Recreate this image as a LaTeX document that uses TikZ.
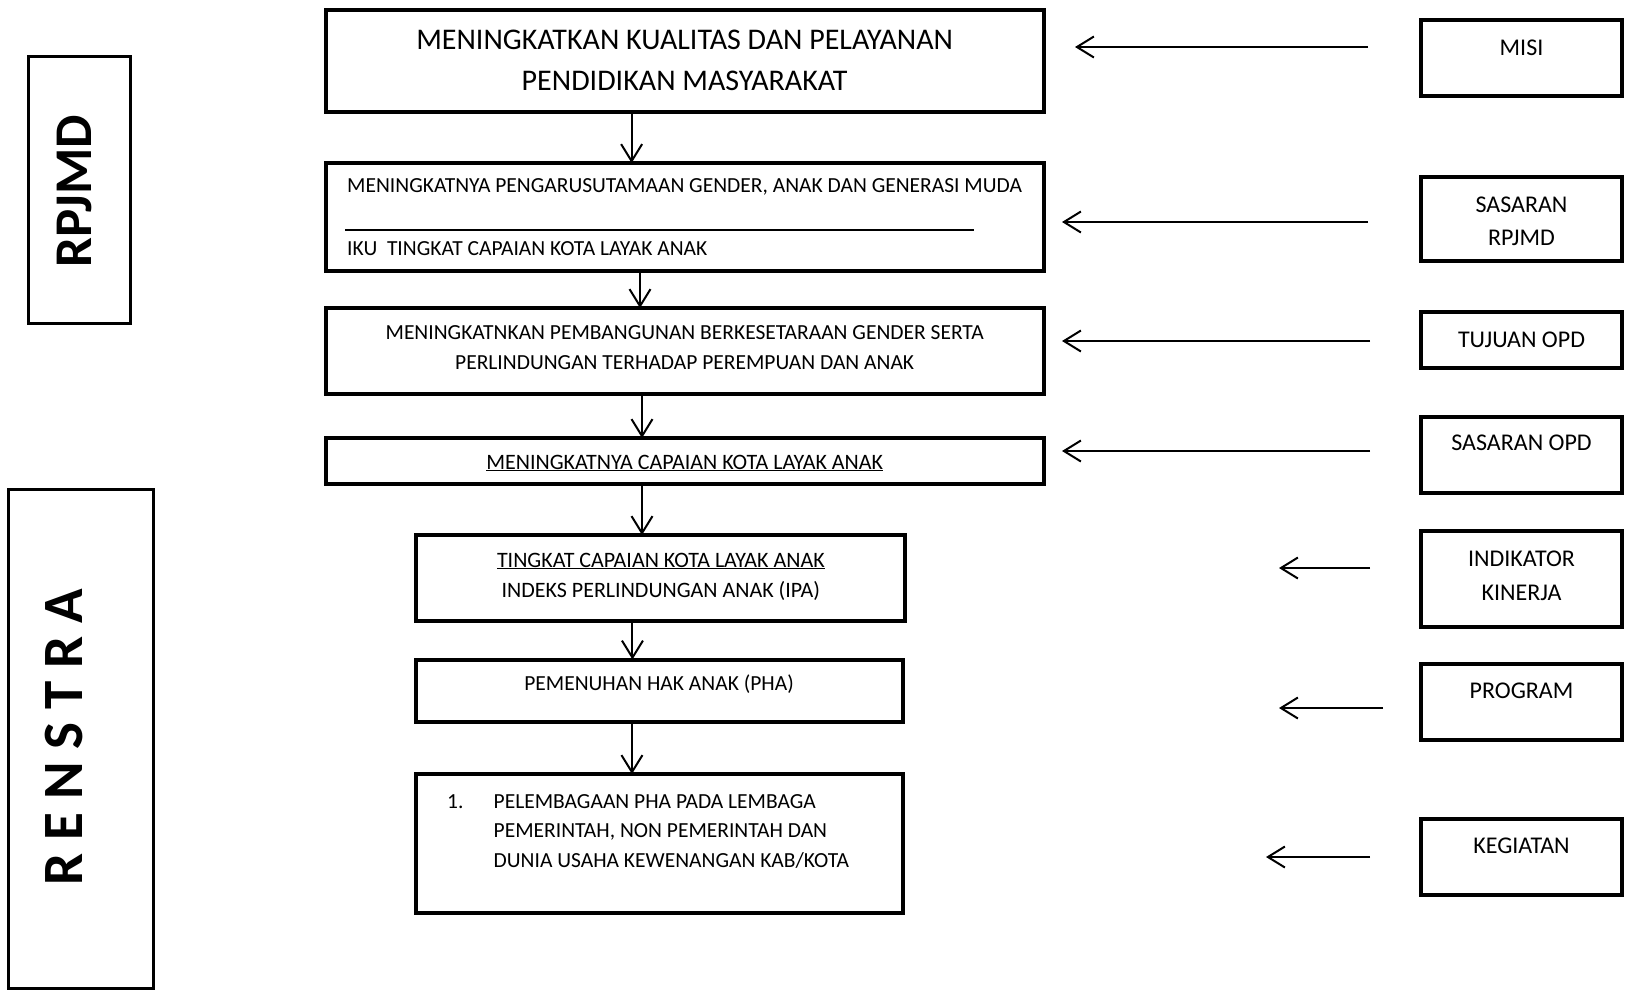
\documentclass[tikz,border=0pt]{standalone}
\usepackage{fontspec}
\setmainfont{Carlito}
\usetikzlibrary{arrows.meta,calc}
\tikzset{
  mainbox/.style={draw, line width=4pt, inner sep=0pt, outer sep=0pt, anchor=north west},
  sidebox/.style={draw, line width=3.5pt, inner sep=0pt, outer sep=0pt, anchor=north west,
                  minimum width=201pt},
  framebox/.style={draw, line width=3pt, inner sep=0pt, outer sep=0pt, anchor=north west},
  txt/.style={font=\fontsize{21.5}{30}\selectfont, inner sep=0pt, align=center},
  ultxt/.style={font=\fontsize{22}{30}\selectfont, inner sep=0pt, align=center},
  sidetxt/.style={font=\fontsize{24}{33.5}\selectfont, inner sep=0pt, align=center},
  vtxt/.style={font=\bfseries, inner sep=0pt, rotate=90, anchor=base},
  ardown/.style={-{Straight Barb[length=17pt,width=21pt]}, line width=2pt},
  arleft/.style={-{Straight Barb[length=17pt,width=21pt]}, line width=2pt},
}
\begin{document}
\begin{tikzpicture}[x=1pt, y=-1pt]
\useasboundingbox (0,0) rectangle (1629,994);

% side frames
\node[framebox, minimum width=102pt, minimum height=267pt] (rpjmd) at (28.5,56.5) {};
\node[framebox, minimum width=145pt, minimum height=499pt] (renstra) at (8.5,489.5) {};
\node[vtxt, font=\fontsize{53}{60}\selectfont\bfseries] (trpjmd) at (91,191) {RPJMD};
\node[vtxt, font=\fontsize{57}{64}\selectfont\bfseries] (trenstra) at (82,737) {R E N S T R A};

% main column
\node[mainbox, minimum width=718pt, minimum height=102pt] (b1) at (326,10) {};
\node[mainbox, minimum width=718pt, minimum height=108pt] (b2) at (326,163) {};
\node[mainbox, minimum width=718pt, minimum height=86pt] (b3) at (326,308) {};
\node[mainbox, minimum width=718pt, minimum height=46pt] (b4) at (326,438) {};
\node[mainbox, minimum width=489.5pt, minimum height=86pt] (b5) at (415.5,535) {};
\node[mainbox, minimum width=487.5pt, minimum height=62.5pt] (b6) at (415.5,659.5) {};
\node[mainbox, minimum width=487.5pt, minimum height=139pt] (b7) at (415.5,774) {};

\node[txt, font=\fontsize{30}{41.5}\selectfont] (t1) at (684.6,60.3)
  {MENINGKATKAN KUALITAS DAN PELAYANAN\\PENDIDIKAN MASYARAKAT};
\node[txt, anchor=base west] (t2a) at (347,192)
  {MENINGKATNYA PENGARUSUTAMAAN GENDER, ANAK DAN GENERASI MUDA};
\draw[line width=2pt] (345,230) -- (973.5,230);
\node[txt, anchor=base west] (t2b) at (347,255) {IKU\ \ TINGKAT CAPAIAN KOTA LAYAK ANAK};
\node[txt, font=\fontsize{21.5}{30.5}\selectfont] (t3) at (684.6,347.8)
  {MENINGKATNKAN PEMBANGUNAN BERKESETARAAN GENDER SERTA\\PERLINDUNGAN TERHADAP PEREMPUAN DAN ANAK};
\node[ultxt, anchor=base] (t4) at (684.6,469) {\underline{MENINGKATNYA CAPAIAN KOTA LAYAK ANAK}};
\node[ultxt] (t5) at (660.8,576.5)
  {\underline{TINGKAT CAPAIAN KOTA LAYAK ANAK}\\INDEKS PERLINDUNGAN ANAK (IPA)};
\node[txt, anchor=base] (t6) at (659,690) {PEMENUHAN HAK ANAK (PHA)};
\node[txt, anchor=base west] (n7) at (447,808) {1.};
\node[txt, align=left, font=\fontsize{21.5}{29.5}\selectfont, anchor=north west] (t7) at (493.5,794.3)
  {PELEMBAGAAN PHA PADA LEMBAGA\\PEMERINTAH, NON PEMERINTAH DAN\\DUNIA USAHA KEWENANGAN KAB/KOTA};

% flow down
\coordinate (d1) at ($(b1.south)+(-53.4,0)$);
\coordinate (d2) at ($(b2.south)+(-45,0)$);
\coordinate (d3) at ($(b3.south)+(-43,0)$);
\coordinate (d4) at ($(b4.south)+(-43,0)$);
\coordinate (d5) at ($(b5.south)+(-27.8,0)$);
\coordinate (d6) at ($(b6.south)+(-27.3,0)$);
\draw[ardown] (d1) -- (d1 |- b2.north);
\draw[ardown] (d2) -- (d2 |- b3.north);
\draw[ardown] (d3) -- (d3 |- b4.north);
\draw[ardown] (d4) -- (d4 |- b5.north);
\draw[ardown] (d5) -- (d5 |- b6.north);
\draw[ardown] (d6) -- (d6 |- b7.north);

% right column
\node[sidebox, minimum height=76pt] (misi) at (1421,20) {};
\node[sidebox, minimum height=84pt] (sasrpjmd) at (1421,177) {};
\node[sidebox, minimum height=56pt] (tujuan) at (1421,312) {};
\node[sidebox, minimum height=76pt] (sasopd) at (1421,417) {};
\node[sidebox, minimum height=96pt] (indikator) at (1421,531) {};
\node[sidebox, minimum height=76pt] (program) at (1421,664) {};
\node[sidebox, minimum height=76pt] (kegiatan) at (1421,819) {};

\node[sidetxt, anchor=base] (tmisi) at (1521.5,55.7) {MISI};
\node[sidetxt] (tsasrpjmd) at (1521.5,221.5) {SASARAN\\RPJMD};
\node[sidetxt, anchor=base] (ttujuan) at (1521.5,347.7) {TUJUAN OPD};
\node[sidetxt, anchor=base] (tsasopd) at (1521.5,450.7) {SASARAN OPD};
\node[sidetxt, font=\fontsize{24}{34}\selectfont] (tindikator) at (1521.5,576) {INDIKATOR\\KINERJA};
\node[sidetxt, anchor=base] (tprogram) at (1521.5,698.7) {PROGRAM};
\node[sidetxt, anchor=base] (tkegiatan) at (1521.5,853.7) {KEGIATAN};

% arrows towards the column
\coordinate (eMisi) at (1075,47);
\coordinate (eSasRpjmd) at (1062,222);
\coordinate (eTujuan) at (1062,341);
\coordinate (eSasOpd) at (1062,451);
\coordinate (eIndikator) at (1279,568);
\coordinate (eProgram) at (1279,708);
\coordinate (eKegiatan) at (1266,857);
\draw[arleft] ($(misi.west |- eMisi)+(-53,0)$) -- (eMisi);
\draw[arleft] ($(sasrpjmd.west |- eSasRpjmd)+(-53,0)$) -- (eSasRpjmd);
\draw[arleft] ($(tujuan.west |- eTujuan)+(-51,0)$) -- (eTujuan);
\draw[arleft] ($(sasopd.west |- eSasOpd)+(-51,0)$) -- (eSasOpd);
\draw[arleft] ($(indikator.west |- eIndikator)+(-51,0)$) -- (eIndikator);
\draw[arleft] ($(program.west |- eProgram)+(-38,0)$) -- (eProgram);
\draw[arleft] ($(kegiatan.west |- eKegiatan)+(-51,0)$) -- (eKegiatan);
\end{tikzpicture}
\end{document}
